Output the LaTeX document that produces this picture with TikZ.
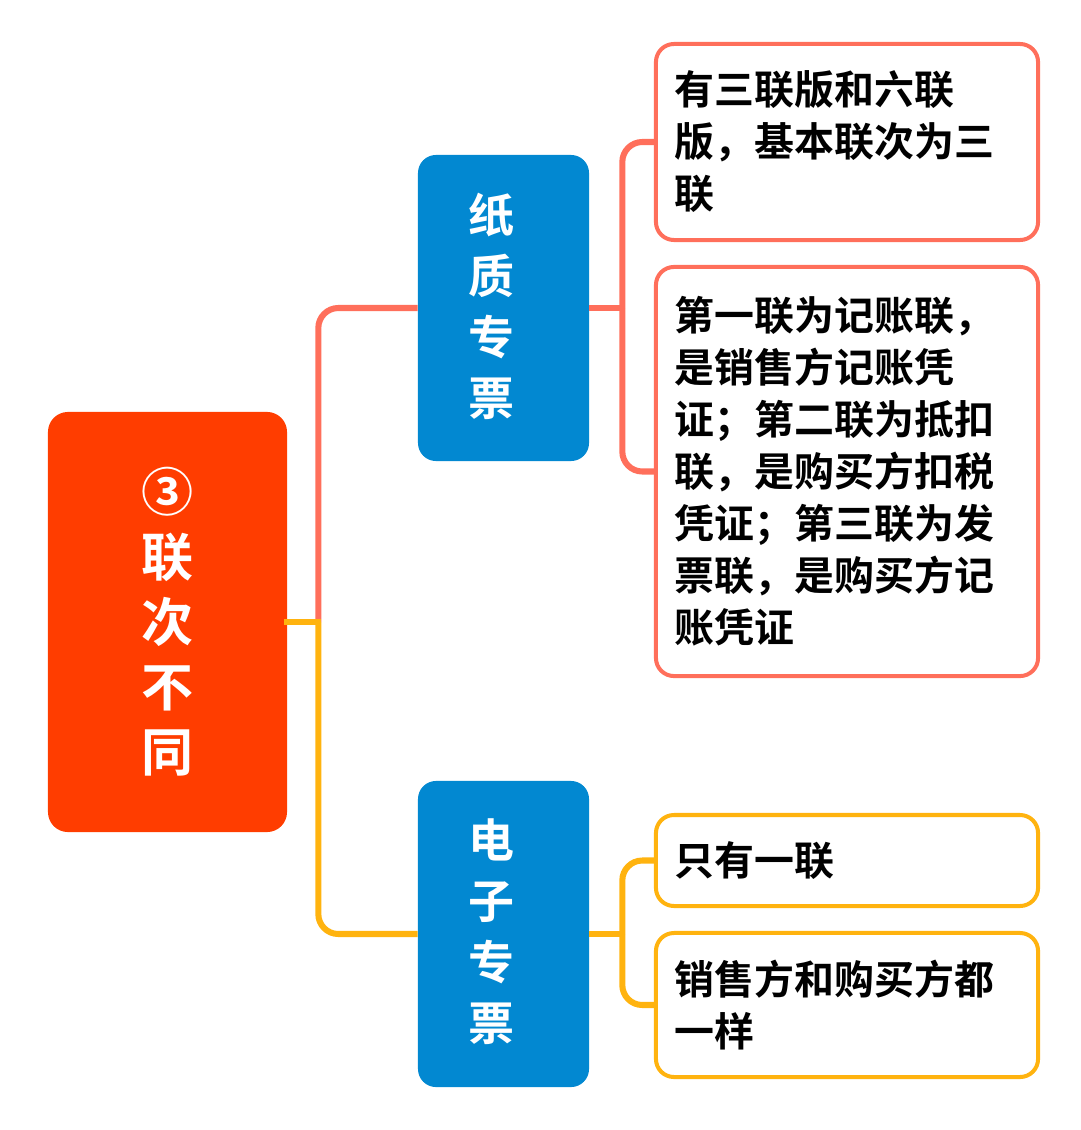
\documentclass[tikz,border=0pt]{standalone}
\usepackage{fontspec}
\usepackage{tikz}
\newfontfamily\cjk{Noto Sans CJK SC}[BoldFont={* Bold}]
\definecolor{rootred}{HTML}{FF3D00}
\definecolor{midblue}{HTML}{0288D1}
\definecolor{coral}{HTML}{FF6F5B}
\definecolor{ylw}{HTML}{FFB30F}
\tikzset{
  rootbox/.style={fill=rootred, rounded corners=0.5cm, minimum width=5.975cm, minimum height=10.5cm,
    text=white, align=center, font=\cjk\bfseries\fontsize{37}{46.2}\selectfont},
  midbox/.style={fill=midblue, rounded corners=0.45cm, minimum width=4.275cm, minimum height=7.65cm},
  midtext/.style={text=white, align=center, font=\cjk\bfseries\fontsize{32.7}{43.4}\selectfont},
  leafbox/.style={draw=#1, line width=2.85pt, fill=white, rounded corners=0.45cm, minimum width=9.55cm,
    text width=8.6cm, inner xsep=0.45cm, align=left, font=\cjk\bfseries\fontsize{28.4}{37}\selectfont},
  link/.style={draw=#1, line width=4.3pt, rounded corners=0.5cm}
}
\begin{document}
\begin{tikzpicture}[x=0.025cm, y=-0.025cm]
    \useasboundingbox (0,0) rectangle (1080,1130);

    % root
    \node[rootbox] (root) at (167.5,622) {③\\联\\次\\不\\同};

    % middle level
    \node[midbox] (paper) at (503.5,308) {};
    \node[midtext] (papertxt) at ([xshift=-12*0.025cm,yshift=2*0.025cm]paper.center) {纸\\质\\专\\票};
    \node[midbox] (elec) at (503.5,934) {};
    \node[midtext] (electxt) at ([xshift=-12*0.025cm,yshift=2*0.025cm]elec.center) {电\\子\\专\\票};

    % leaves
    \node[leafbox=coral, minimum height=4.9cm] (p1) at (847,142) {有三联版和六联\\版，基本联次为三\\联};
    \node[leafbox=coral, minimum height=10.225cm] (p2) at (847,471.5) {第一联为记账联，\\是销售方记账凭\\证；第二联为抵扣\\联，是购买方扣税\\凭证；第三联为发\\票联，是购买方记\\账凭证};
    \node[leafbox=ylw, minimum height=2.275cm] (e1) at (847,860.5) {只有一联};
    \node[leafbox=ylw, minimum height=3.6cm] (e2) at (847,1005) {销售方和购买方都\\一样};

    % connectors root -> middle
    \coordinate (rj) at ([xshift=31*0.025cm]root.east);
    \draw[link=coral] (rj) |- (paper.west);
    \draw[link=ylw] (rj) |- (elec.west);
    \draw[link=ylw, line cap=rect] (root.east) -- (rj);

    % connectors middle -> leaves
    \draw[link=coral] (paper.east) -- ++(33,0) coordinate (pj);
    \draw[link=coral] (pj) |- (p1.west);
    \draw[link=coral] (pj) |- (p2.west);
    \draw[link=ylw] (elec.east) -- ++(33,0) coordinate (ej);
    \draw[link=ylw] (ej) |- (e1.west);
    \draw[link=ylw] (ej) |- (e2.west);
\end{tikzpicture}
\end{document}
